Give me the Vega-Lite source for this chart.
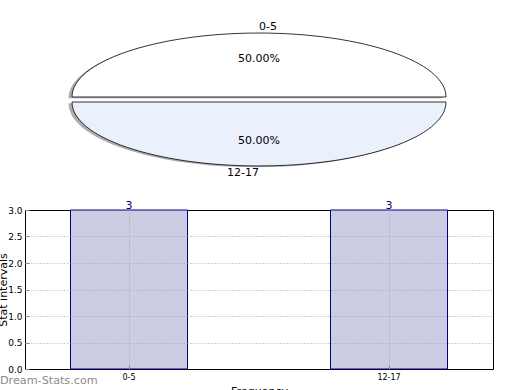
{
  "$schema": "https://vega.github.io/schema/vega-lite/v6.json",
  "padding": {"left": -3, "top": 10, "right": 0, "bottom": 0},
  "bounds": "flush",
  "spacing": 21,
  "config": {
    "font": "DejaVu Sans",
    "view": {"stroke": "black", "strokeWidth": 1}
  },
  "data": {
    "values": [
      {"category": "0-5", "count": 3},
      {"category": "12-17", "count": 3}
    ]
  },
  "vconcat": [
    {
      "width": 468,
      "height": 179,
      "view": {"stroke": null},
      "transform": [
        {"joinaggregate": [{"op": "sum", "field": "count", "as": "total"}]},
        {"calculate": "datum.count / datum.total", "as": "share"}
      ],
      "layer": [
        {
          "mark": {"type": "point", "filled": true, "size": 139876, "xOffset": -3.5, "yOffset": 1.3, "fill": "#777777", "opacity": 0.6, "strokeWidth": 0},
          "encoding": {
            "shape": {"field": "category", "type": "nominal", "legend": null,
              "scale": {"domain": ["0-5", "12-17"], "range": [
                "M-1,-0.0134C-1,-0.2024,-0.552,-0.3554,0,-0.3554C0.552,-0.3554,1,-0.2024,1,-0.0134Z",
                "M-1,0.0134C-1,0.2024,-0.552,0.3554,0,0.3554C0.552,0.3554,1,0.2024,1,0.0134Z"]}}
          }
        },
        {
          "mark": {"type": "point", "filled": true, "size": 139876, "stroke": "black", "strokeWidth": 0.8, "opacity": 1},
          "encoding": {
            "shape": {"field": "category", "type": "nominal", "legend": null,
              "scale": {"domain": ["0-5", "12-17"], "range": [
                "M-1,-0.0134C-1,-0.2024,-0.552,-0.3554,0,-0.3554C0.552,-0.3554,1,-0.2024,1,-0.0134Z",
                "M-1,0.0134C-1,0.2024,-0.552,0.3554,0,0.3554C0.552,0.3554,1,0.2024,1,0.0134Z"]}},
            "fill": {"field": "category", "type": "nominal", "legend": null,
              "scale": {"domain": ["0-5", "12-17"], "range": ["#ffffff", "#eaf0fc"]}}
          }
        },
        {
          "transform": [{"filter": "datum.category == '0-5'"}],
          "mark": {"type": "text", "align": "left", "baseline": "middle", "dy": -72.5, "fontSize": 11, "color": "black"},
          "encoding": {"text": {"field": "category"}}
        },
        {
          "transform": [{"filter": "datum.category == '12-17'"}],
          "mark": {"type": "text", "align": "right", "baseline": "middle", "dy": 73.5, "fontSize": 11, "color": "black"},
          "encoding": {"text": {"field": "category"}}
        },
        {
          "transform": [{"filter": "datum.category == '0-5'"}],
          "mark": {"type": "text", "align": "center", "baseline": "middle", "dy": -40.5, "fontSize": 11, "color": "black"},
          "encoding": {"text": {"field": "share", "type": "quantitative", "format": ".2%"}}
        },
        {
          "transform": [{"filter": "datum.category == '12-17'"}],
          "mark": {"type": "text", "align": "center", "baseline": "middle", "dy": 41.5, "fontSize": 11, "color": "black"},
          "encoding": {"text": {"field": "share", "type": "quantitative", "format": ".2%"}}
        }
      ]
    },
    {
      "width": 468,
      "height": 159,
      "title": {"text": "Dream-Stats.com", "orient": "bottom", "anchor": "start", "frame": "group", "dx": -25, "offset": -21, "color": "#8c8c8c", "fontSize": 11.2, "fontWeight": "normal", "baseline": "top"},
      "encoding": {
        "x": {"field": "category", "type": "nominal", "sort": ["0-5", "12-17"],
          "scale": {"paddingInner": 0.55, "paddingOuter": 0.175},
          "axis": {"title": "Frequency", "labelAngle": 0, "labelFontSize": 8, "titleFontSize": 11, "titleFontWeight": "normal", "titlePadding": 4,
            "bandPosition": 0.5, "grid": true, "gridColor": "#a8a8a8", "gridDash": [1, 2], "tickSize": -4, "tickColor": "#888888", "labelPadding": 8, "domain": false, "zindex": 1}},
        "y": {"field": "count", "type": "quantitative",
          "scale": {"domain": [0, 3], "nice": false},
          "axis": {"title": "Stat intervals", "values": [0, 0.5, 1, 1.5, 2, 2.5, 3], "format": ".1f", "labelFontSize": 9, "titleFontSize": 11, "titleFontWeight": "normal", "titlePadding": -1,
            "grid": true, "gridColor": "#a8a8a8", "gridDash": [1, 2],
            "gridOpacity": {"condition": {"test": "datum.value == 3 || datum.value == 0", "value": 0}, "value": 1},
            "tickSize": -4, "tickColor": "#888888", "labelPadding": 7, "domain": false, "zindex": 1}}
      },
      "layer": [
        {"mark": {"type": "bar", "fill": "#ccccE4", "stroke": "#000080", "strokeWidth": 1}},
        {"mark": {"type": "text", "baseline": "bottom", "dy": 1, "fontSize": 11, "color": "#000080"},
          "encoding": {"text": {"field": "count", "type": "quantitative"}}}
      ]
    }
  ]
}
